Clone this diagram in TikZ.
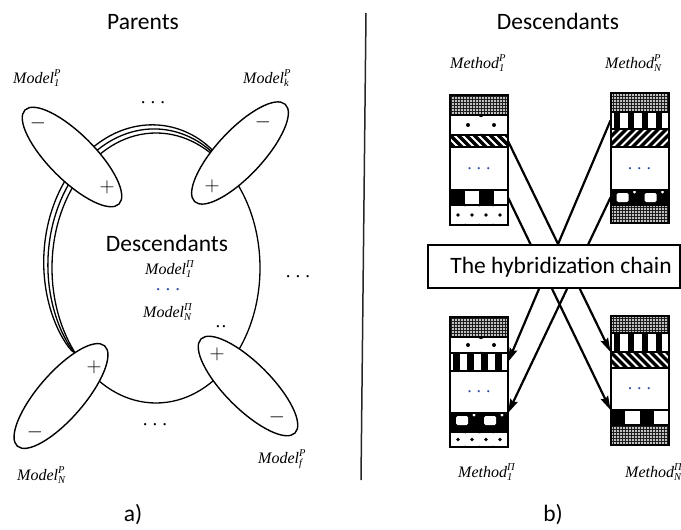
\documentclass[tikz,border=0pt]{standalone}
\usepackage{fontspec}
\setmainfont{Carlito}
\newfontfamily\labserif{Liberation Serif}
\usetikzlibrary{shapes.geometric,arrows.meta,patterns.meta,calc,fit}
\definecolor{dotblue}{RGB}{45,75,165}
\newcommand\scriptlab{\fontsize{10.5}{10.5}\selectfont}
\newcommand\mlab[3]{{\labserif\itshape #1\rlap{\raisebox{6.5pt}{\scriptlab #3}}\raisebox{-3pt}{\scriptlab #2}}}
\newcommand\threedots{.\kern5pt.\kern5pt.}
\begin{document}
\begin{tikzpicture}[x=1pt,y=-1pt,
  title/.style={font=\fontsize{23.5}{24}\selectfont, anchor=base, inner sep=0pt},
  lab/.style={font=\fontsize{16}{16}\selectfont, anchor=base west, inner sep=0pt},
  dotsnode/.style={font=\labserif\fontsize{19}{19}\selectfont, inner sep=0pt},
  sign/.style={font=\fontsize{20}{20}\selectfont, inner sep=0pt},
  ring/.style={line width=1.3pt},
  parent/.style={ellipse, draw, fill=white, line width=1.4pt, minimum width=133pt, minimum height=46pt, inner sep=0pt},
  band/.style={draw, line width=1.2pt, minimum width=58pt, inner sep=0pt, outer sep=0pt, anchor=north},
  weave/.style={band, minimum height=#1, preaction={fill=black!90}, pattern={Dots[distance=3pt, radius=1.05pt]}, pattern color=white},
  blank/.style={band, minimum height=#1, font=\labserif\fontsize{18}{18}\selectfont, text=dotblue},
  spotsA/.style={band, minimum height=#1, path picture={
      \coordinate (q) at (path picture bounding box.north west);
      \coordinate (m) at (path picture bounding box.west);
      \coordinate (s) at (path picture bounding box.south west);
      \fill ($(m)+(18,0)$) circle (2pt);
      \fill ($(m)+(44,0)$) circle (2pt);
      \fill ($(q)+(31,0)$) circle (2.2pt);
      \fill ($(s)+(31,0)$) circle (1.5pt);}},
  spotsB/.style={band, minimum height=#1, path picture={
      \coordinate (q) at (path picture bounding box.north west);
      \coordinate (m) at (path picture bounding box.west);
      \coordinate (s) at (path picture bounding box.south west);
      \foreach \i in {8,22,36,50} \fill ($(m)+(\i,0)$) circle (1.9pt);
      \foreach \i in {15,29,43} {\fill ($(q)+(\i,0)$) circle (1.5pt); \fill ($(s)+(\i,0)$) circle (1.5pt);}}},
  diagdown/.style={band, minimum height=#1, path picture={
      \coordinate (q) at (path picture bounding box.north west);
      \foreach \i in {-4,...,8} \draw[line width=3.2pt] ($(q)+(8*\i,0)$) -- ++(30,30);}},
  diagup/.style={band, minimum height=#1, path picture={
      \coordinate (q) at (path picture bounding box.north west);
      \foreach \i in {0,...,12} \draw[line width=3.2pt] ($(q)+(8*\i,0)$) -- ++(-30,30);}},
  vbars/.style={band, minimum height=#1, path picture={
      \coordinate (q) at (path picture bounding box.north west);
      \foreach \i in {0,...,3} \fill ($(q)+(3+14*\i,-1)$) rectangle ++(6.5,40);}},
  checker/.style={band, minimum height=#1, path picture={
      \coordinate (q) at (path picture bounding box.north west);
      \fill (q) rectangle ++(14.5,40);
      \fill ($(q)+(29,0)$) rectangle ++(14.5,40);}},
  blobs/.style={band, minimum height=#1, preaction={fill=black}, path picture={
      \coordinate (q) at (path picture bounding box.north west);
      \fill[white, rounded corners=1.5pt] ($(q)+(6,3)$) rectangle ++(12,9);
      \fill[white, rounded corners=1.5pt] ($(q)+(34,3)$) rectangle ++(12,9);
      \foreach \i in {24,52} \fill[white] ($(q)+(\i,2)$) circle (1.6pt);}},
  frame/.style={draw, line width=2pt, inner sep=0pt},
  conn/.style={line width=2.2pt, -{Stealth[length=14pt, width=8pt, inset=2pt]}},
  hybbox/.style={draw, fill=white, line width=1.2pt, minimum width=252pt, minimum height=43pt, inner sep=0pt}
]
\useasboundingbox (0,0) rectangle (681,530);

% ---------- headings and divider ----------
\node[title] (parents) at (143,30) {Parents};
\node[title] (desctitle) at (558,30) {Descendants};
\coordinate (divtop) at (366,13);
\coordinate (divbot) at (361,480);
\draw[line width=1.5pt, black!85] (divtop) -- (divbot);

% ---------- a) pool of descendants with parent models ----------
\node[ellipse, draw, ring, minimum width=208pt, minimum height=270pt, inner sep=0pt] (pool) at (156,268) {};
\foreach \d in {5,10}
  \draw[ring] plot[domain=141:308, samples=90, smooth, variable=\t]
    ({156+(104+\d*sqrt(abs(sin((\t-141)*1.0778))))*cos(\t)},
     {268+(135+\d*sqrt(abs(sin((\t-141)*1.0778))))*sin(\t)});

\node[parent, rotate=-45] (ul) at (72,157) {};
\node[parent, rotate=47]  (ur) at (240,153) {};
\node[parent, rotate=49]  (ll) at (61,396) {};
\node[parent, rotate=-45] (lr) at (248,386) {};

\node[sign] (ulminus) at (38,123) {$-$};
\node[sign] (ulplus)  at (107,187) {$+$};
\node[sign] (urminus) at (263,122) {$-$};
\node[sign] (urplus)  at (212,186) {$+$};
\node[sign] (llplus)  at (94,367) {$+$};
\node[sign] (llminus) at (35,432) {$-$};
\node[sign] (lrplus)  at (217,354) {$+$};
\node[sign] (lrminus) at (277,417) {$-$};

\node[lab] (m1p) at (13,83)  {\mlab{Model}{1}{P}};
\node[lab] (mkp) at (243,83) {\mlab{Model}{k}{P}};
\node[lab] (mnp) at (17,480) {\mlab{Model}{N}{P}};
\node[lab] (mfp) at (258,463) {\mlab{Model}{f}{P}};

\node[title] (pooltitle) at (167,251) {Descendants};
\node[lab] (m1d) at (145,274) {\mlab{Model}{1}{Π}};
\node[dotsnode, text=dotblue] (pooldots) at (168,290) {\threedots};
\node[lab] (mnd) at (143,317) {\mlab{Model}{N}{Π}};
\node[dotsnode] (twodots) at (221,327) {.\kern1.5pt.};

\node[dotsnode] (dtop)    at (153,103) {\threedots};
\node[dotsnode] (dright)  at (298,277) {\threedots};
\node[dotsnode] (dbottom) at (155,425) {\threedots};

\node[title] (capa) at (133,521) {a)};

% ---------- b) chromosomes of the methods ----------
% parent 1
\node[weave=20pt]    (p1a) at (479,95)  {};
\node[spotsA=20pt]   (p1b) at (479,115) {};
\node[diagdown=12pt] (p1c) at (479,135) {};
\node[blank=43pt]    (p1d) at (479,147) {\threedots};
\node[checker=15pt]  (p1e) at (479,190) {};
\node[spotsB=20pt]   (p1f) at (479,205) {};
\node[frame, fit=(p1a)(p1f)] (p1) {};
% parent N
\node[weave=19pt]    (pNa) at (639.5,93)  {};
\node[vbars=17pt]    (pNb) at (639.5,112) {};
\node[diagup=18pt]   (pNc) at (639.5,129) {};
\node[blank=43pt]    (pNd) at (639.5,147) {\threedots};
\node[blobs=15pt]    (pNe) at (639.5,190) {};
\node[weave=18pt]    (pNf) at (639.5,205) {};
\node[frame, fit=(pNa)(pNf)] (pN) {};
% descendant 1
\node[weave=20pt]    (c1a) at (479,317) {};
\node[spotsA=16pt]   (c1b) at (479,337) {};
\node[vbars=18pt]    (c1c) at (479,353) {};
\node[blank=42pt]    (c1d) at (479,371) {\threedots};
\node[blobs=19pt]    (c1e) at (479,413) {};
\node[spotsB=15pt]   (c1f) at (479,432) {};
\node[frame, fit=(c1a)(c1f)] (c1) {};
% descendant N
\node[weave=17pt]    (cNa) at (639.5,316) {};
\node[vbars=19pt]    (cNb) at (639.5,333) {};
\node[diagdown=16pt] (cNc) at (639.5,352) {};
\node[blank=42pt]    (cNd) at (639.5,368) {\threedots};
\node[checker=15pt]  (cNe) at (639.5,410) {};
\node[weave=20pt]    (cNf) at (639.5,425) {};
\node[frame, fit=(cNa)(cNf)] (cN) {};

% gene transfer
\draw[conn] (p1c.east) -- (cNc.north west);
\draw[conn] (p1e.east) -- (cNe.north west);
\draw[conn] (pNb.west) -- (c1c.east);
\draw[conn] (pNe.west) -- (c1e.north east);

\node[hybbox] (hyb) at (554,266.5) {};
\node[title] (hybtext) at (561,273) {The hybridization chain};

\node[lab] (meth1p) at (450,68)  {\mlab{Method}{1}{P}};
\node[lab] (methnp) at (605,68)  {\mlab{Method}{N}{P}};
\node[lab] (meth1d) at (458,477) {\mlab{Method}{1}{Π}};
\node[lab] (methnd) at (625,477) {\mlab{Method}{N}{Π}};

\node[title] (capb) at (553,521) {b)};
\end{tikzpicture}
\end{document}
